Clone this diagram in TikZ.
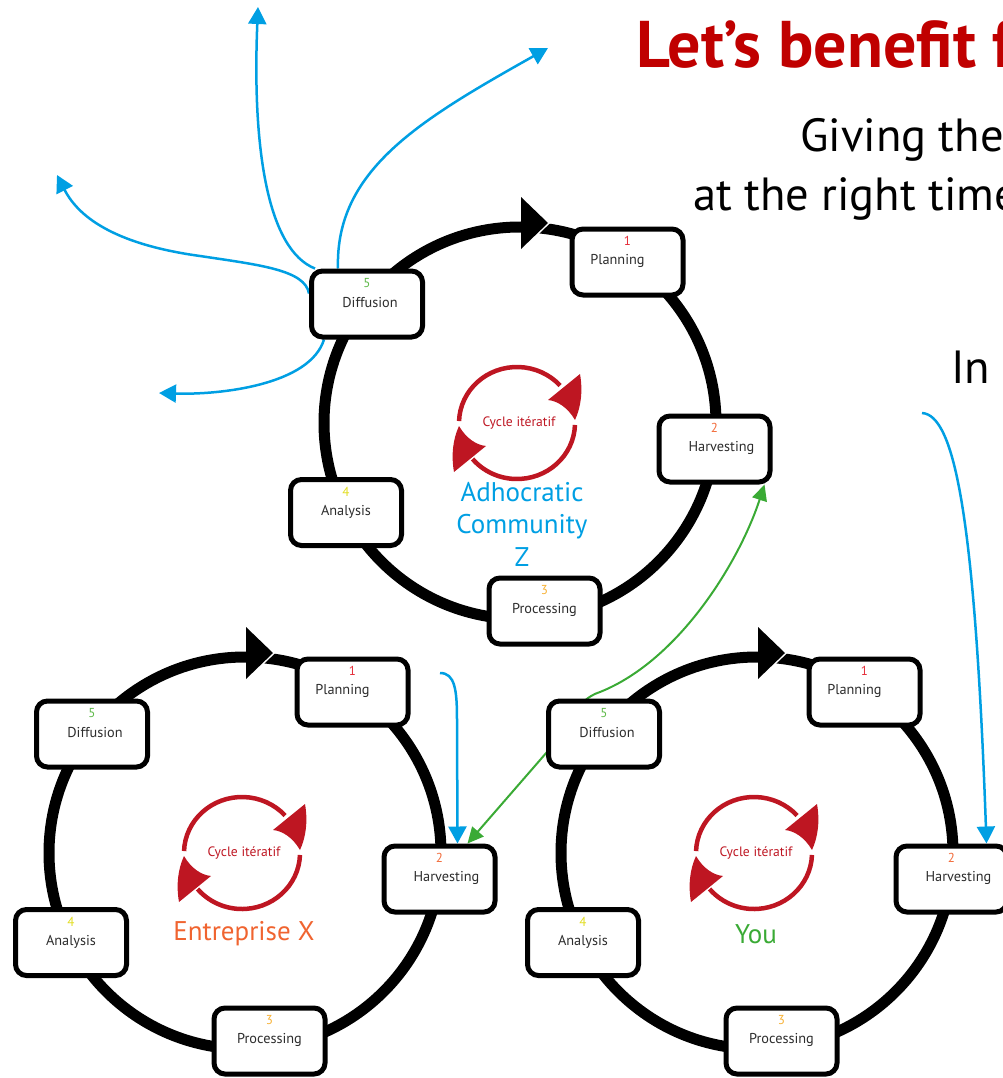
\documentclass[tikz,border=0pt]{standalone}
\usepackage{fontspec}
\setmainfont{PT Sans}
\usetikzlibrary{arrows.meta}
\pgfdeclarelayer{bg}
\pgfsetlayers{bg,main}
\definecolor{cblue}{RGB}{0,159,227}
\definecolor{cgreen}{RGB}{58,170,53}
\definecolor{ctitle}{RGB}{192,0,0}
\definecolor{cicon}{RGB}{190,22,34}
\definecolor{corange}{RGB}{240,100,48}
\definecolor{nA}{RGB}{229,47,59}
\definecolor{nB}{RGB}{242,107,58}
\definecolor{nC}{RGB}{248,177,51}
\definecolor{nD}{RGB}{226,221,31}
\definecolor{nE}{RGB}{93,185,71}
\definecolor{ctext}{RGB}{45,45,45}
\tikzset{
 stepbox/.style={draw=black,line width=5pt,rounded corners=11pt,fill=white,minimum width=111pt,minimum height=66pt,inner sep=0pt},
 steplabel/.style={inner sep=0pt,text=ctext,font=\fontsize{14.3}{16}\selectfont},
 stepnum/.style={inner sep=0pt,font=\fontsize{13}{15}\selectfont},
 ringline/.style={draw=black,line width=11pt},
 iconline/.style={draw=cicon,line width=4.5pt},
 icontext/.style={inner sep=0pt,text=cicon,font=\fontsize{13.6}{15}\selectfont},
 bluearrow/.style={draw=cblue,line width=2.5pt,-{Triangle[length=17pt,width=18pt]}},
 greenarrow/.style={draw=cgreen,line width=2pt,{Triangle[length=16pt,width=15pt]}-{Triangle[length=16pt,width=15pt]}},
 bigtext/.style={inner sep=0pt,anchor=base west,font=\fontsize{46.5}{52}\selectfont},
}
\newcommand\stepnode[8]{%
 \node[stepbox] (#1#2) at (#3,#4) {};
 \node[steplabel] (#1#2l) at ([xshift=#8pt,yshift=1pt]#1#2.center) {#7};
 \node[stepnum,text=#6] (#1#2n) at ([yshift=21pt]#1#2.center) {#5};
}
\newcommand\cyclering[3]{%
\begin{scope}[shift={(#2,#3)}]
 \draw[ringline] (0,0) circle[radius=196pt];
 \draw[white,line width=3pt] (1,-226) -- (28,-200) -- (1,-174);
 \fill[black] (1,-226) -- (28,-200) -- (1,-174) -- cycle;
 \begin{scope}[shift={(-3pt,0pt)}]
  \draw[iconline] (178:58pt and 56pt) arc[start angle=178,end angle=42,x radius=58pt,y radius=56pt];
  \draw[iconline] (-2:58pt and 56pt) arc[start angle=-2,end angle=-140,x radius=58pt,y radius=56pt];
  \fill[cicon] (63pt,49pt) .. controls (66pt,32pt) and (64pt,16pt) .. (58pt,3pt) .. controls (51pt,15pt) and (41pt,22pt) .. (31pt,23pt) -- cycle;
  \fill[cicon] (-63pt,-49pt) .. controls (-66pt,-32pt) and (-64pt,-16pt) .. (-58pt,-3pt) .. controls (-51pt,-15pt) and (-41pt,-22pt) .. (-31pt,-23pt) -- cycle;
 \end{scope}
 \node[icontext] (#1ci) at (-1,0) {Cycle itératif};
 \stepnode{#1}{P}{107.5}{-161}{1}{nA}{Planning}{-10}
 \stepnode{#1}{H}{194.5}{26}{2}{nB}{Harvesting}{7}
 \stepnode{#1}{R}{24.5}{188}{3}{nC}{Processing}{0}
 \stepnode{#1}{A}{-174}{89.5}{4}{nD}{Analysis}{0}
 \stepnode{#1}{D}{-153}{-119}{5}{nE}{Diffusion}{3}
\end{scope}}
\begin{document}
\begin{tikzpicture}[x=1pt,y=-1pt]
\useasboundingbox (0,0) rectangle (1003,1078);
\clip (0,0) rectangle (1003,1078);
\cyclering{t}{520}{423}
\cyclering{l}{245}{853}
\cyclering{r}{757}{853}
\node[align=center,inner sep=0pt,text=cblue,font=\fontsize{27}{32.5}\selectfont] (tlabel) at (522,524) {Adhocratic\\Community\\Z};
\node[inner sep=0pt,text=corange,font=\fontsize{27}{30}\selectfont] (llabel) at (244,934) {Entreprise X};
\node[inner sep=0pt,text=cgreen,font=\fontsize{27}{30}\selectfont] (rlabel) at (756,934) {You};
\node[inner sep=0pt,anchor=base west,text=ctitle,font=\bfseries\fontsize{66}{72}\selectfont] (title) at (636,68) {Let’s benefit f};
\node[bigtext] (line1) at (800,152) {Giving the};
\node[bigtext] (line2) at (693,210) {at the right time};
\node[bigtext] (line3) at (951,383) {In};
\begin{pgfonlayer}{bg}
 \coordinate (e1) at (258,7);
 \coordinate (e2) at (548,48);
 \coordinate (e3) at (57,175);
 \coordinate (e4) at (159,393);
 \coordinate (s5) at (922,413);
 \coordinate (s6) at (440,673);
 \draw[bluearrow] ([xshift=6pt]tD.north west) .. controls (268,250) and (252,150) .. (e1);
 \draw[bluearrow] ([xshift=29pt]tD.north west) .. controls (335,170) and (420,120) .. (e2);
 \draw[bluearrow] ([yshift=-25pt]tD.north west) .. controls (305,270) and (260,265) .. (200,256) .. controls (120,245) and (80,220) .. (e3);
 \draw[bluearrow] ([xshift=15pt]tD.south west) .. controls (310,385) and (220,395) .. (e4);
 \draw[bluearrow] (s5) .. controls (955,415) and (975,520) .. ([xshift=35pt]rH.north);
 \draw[bluearrow] (s6) .. controls (455,673) and (457,690) .. (457,720) -- ([xshift=18pt]lH.north);
 \draw[greenarrow] ([xshift=28pt]lH.north) -- (547,752) .. controls (570,725) and (575,700) .. (600,692) .. controls (680,660) and (740,560) .. ([xshift=50pt]tH.south);
\end{pgfonlayer}
\end{tikzpicture}
\end{document}
